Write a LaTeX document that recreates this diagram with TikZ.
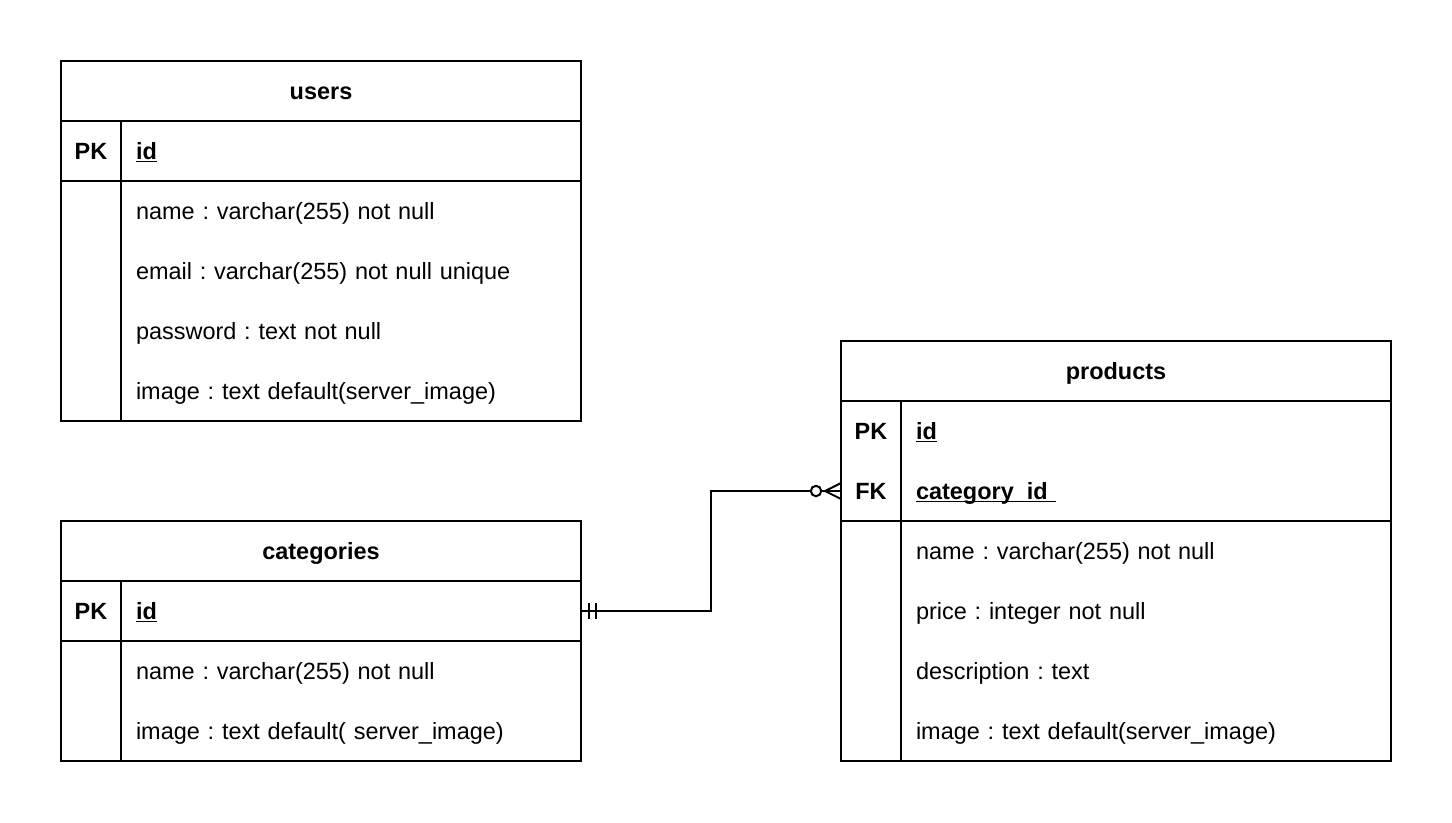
\documentclass[tikz,border=0pt]{standalone}
\usepackage{fontspec}
\setmainfont{Liberation Sans}
\frenchspacing
\usetikzlibrary{positioning,calc}
\newcommand{\keyName}[1]{\textbf{\underline{\smash{#1}}}}
\tikzset{%
  % Specifications for the table cells:
    baseCell/.style = {rectangle, inner sep=0, outer sep=0, minimum height=45pt, text height=13pt, text depth=0.5pt, font=\fontsize{17.6pt}{21pt}\selectfont},
    tableHead/.style = {baseCell, draw, line width=1.5pt, anchor=north west, font=\fontsize{17.6pt}{21pt}\selectfont\bfseries},
    keyCell/.style = {baseCell, minimum width=45pt, font=\fontsize{17.6pt}{21pt}\selectfont\bfseries},
    fieldCell/.style = {baseCell, inner xsep=11.25pt, text width=#1, align=left},
    frame/.style = {line width=1.5pt},
    relation/.style = {line width=1.5pt},
}

\begin{document}
\begin{tikzpicture}[x=0.75pt, y=-0.75pt]
	\useasboundingbox (0,0) rectangle (1452,822);

	% users
	\node [tableHead, minimum width=390pt] (users) at (61,61) {users};
	\node [keyCell, below right=0pt and 0pt of users.south west] (users-pk) {PK};
	\node [fieldCell=322.5pt, right=0pt of users-pk] (users-id) {\keyName{id}};
	\node [fieldCell=322.5pt, below=0pt of users-id] (users-name) {name : varchar(255) not null};
	\node [fieldCell=322.5pt, below=0pt of users-name] (users-email) {email : varchar(255) not null unique};
	\node [fieldCell=322.5pt, below=0pt of users-email] (users-pass) {password : text not null};
	\node [fieldCell=322.5pt, below=0pt of users-pass] (users-image) {image : text default(server\_image)};
	\draw[frame] (users.south west) rectangle (users-image.south east);
	\draw[frame] (users-pk.north east) -- (users-pk.north east |- users-image.south);
	\draw[frame] (users-pk.south west) -- (users-id.south east);

	% categories
	\node [tableHead, minimum width=390pt] (categories) at (61,521) {categories};
	\node [keyCell, below right=0pt and 0pt of categories.south west] (categories-pk) {PK};
	\node [fieldCell=322.5pt, right=0pt of categories-pk] (categories-id) {\keyName{id}};
	\node [fieldCell=322.5pt, below=0pt of categories-id] (categories-name) {name : varchar(255) not null};
	\node [fieldCell=322.5pt, below=0pt of categories-name] (categories-image) {image : text default( server\_image)};
	\draw[frame] (categories.south west) rectangle (categories-image.south east);
	\draw[frame] (categories-pk.north east) -- (categories-pk.north east |- categories-image.south);
	\draw[frame] (categories-pk.south west) -- (categories-id.south east);

	% products
	\node [tableHead, minimum width=412.5pt] (products) at (841,341) {products};
	\node [keyCell, below right=0pt and 0pt of products.south west] (products-pk) {PK};
	\node [keyCell, below=0pt of products-pk] (products-fk) {FK};
	\node [fieldCell=345pt, right=0pt of products-pk] (products-id) {\keyName{id}};
	\node [fieldCell=345pt, below=0pt of products-id] (products-catid) {\keyName{category\_id\ }};
	\node [fieldCell=345pt, below=0pt of products-catid] (products-name) {name : varchar(255) not null};
	\node [fieldCell=345pt, below=0pt of products-name] (products-price) {price : integer not null};
	\node [fieldCell=345pt, below=0pt of products-price] (products-desc) {description : text};
	\node [fieldCell=345pt, below=0pt of products-desc] (products-image) {image : text default(server\_image)};
	\draw[frame] (products.south west) rectangle (products-image.south east);
	\draw[frame] (products-pk.north east) -- (products-pk.north east |- products-image.south);
	\draw[frame] (products-fk.south west) -- (products-catid.south east);

	% relation categories 1 -- n products
	\draw[relation] (categories-id.east) -- ++(130,0) |- (products-fk.west);
	\draw[relation] ($(categories-id.east)+(8,-8)$) -- ++(0,16);
	\draw[relation] ($(categories-id.east)+(15,-8)$) -- ++(0,16);
	\coordinate (crow) at ($(products-fk.west)+(-16,0)$);
	\draw[relation] (crow) -- ++(16,-8);
	\draw[relation] (crow) -- ++(16,8);
	\draw[relation, fill=white] ($(products-fk.west)+(-25,0)$) circle[radius=3.9pt];

\end{tikzpicture}
\end{document}
